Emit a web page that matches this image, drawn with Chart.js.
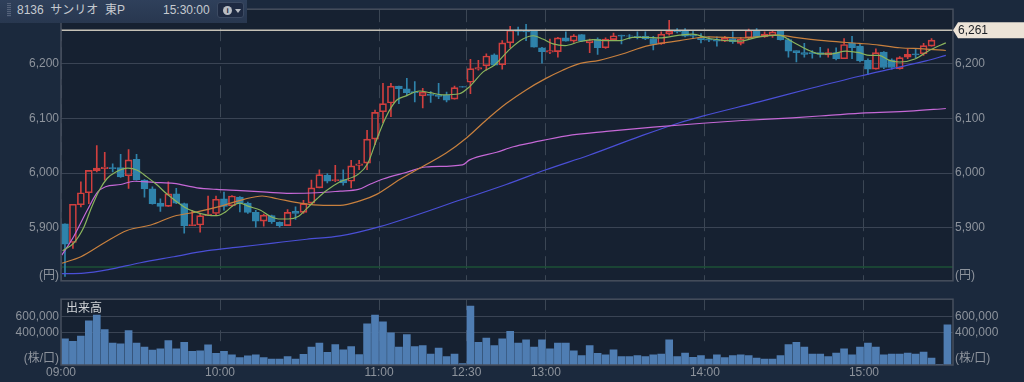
<!DOCTYPE html>
<html lang="ja"><head><meta charset="utf-8">
<style>
html,body{margin:0;padding:0;background:#1b293d;width:1024px;height:382px;overflow:hidden;font-family:"Liberation Sans","Noto Sans CJK JP",sans-serif}
canvas{position:absolute;left:0}
#head{position:absolute;left:0;top:0;width:247px;height:23px;background:linear-gradient(#2f405b,#28374f);color:#c6cad0;font-size:12px;line-height:20px;white-space:pre}
#head span{position:absolute;top:0}
#grip{position:absolute;left:7px;top:3px;width:4px;height:14px;background:repeating-linear-gradient(#56637a 0 1px,#2f405b 1px 2px)}
#btn{position:absolute;left:217px;top:2px;width:27px;height:16px;background:#1e2a42;border:1px solid #3c4a62;box-sizing:border-box;border-radius:3px}
#i{position:absolute;left:5px;top:3px;width:9px;height:9px;border-radius:50%;background:#b9bdc4;color:#1e2a42;font:bold 8px/9px "Liberation Sans";text-align:center}
#t{position:absolute;left:17px;top:6px;width:0;height:0;border-left:3px solid transparent;border-right:3px solid transparent;border-top:4px solid #b9bdc4}
#vl{position:absolute;left:66px;top:301px;color:#cfd2d6;font-size:12px;line-height:14px}
</style></head><body>
<canvas id="main" width="1024" height="290" style="top:0;width:1024px;height:290px"></canvas>
<canvas id="vol" width="1024" height="92" style="top:290px;width:1024px;height:92px"></canvas>
<div id="head"><div id="grip"></div><span style="left:17px">8136&nbsp; サンリオ&nbsp; 東P</span><span style="left:163px">15:30:00</span><div id="btn"><div id="i">i</div><div id="t"></div></div></div>
<div id="vl">出来高</div>
<script src="https://cdn.jsdelivr.net/npm/chart.js@4"></script>
<script>
const timeSlots=[0,20,40,51,61,81,101];
const timeLabels=["09:00","10:00","11:00","12:30","13:00","14:00","15:00"];
const priceTicks=[6200,6100,6000,5900];
const volumeTicks=[600000,400000];
const lastPrice=6261;
const lowerBand=5828;
const open=[5907,5873,5942,5964,6004,6008,6010,6010,5995,6025,5987,5971,5945,5939,5962,5944,5904,5905,5922,5926,5953,5940,5956,5945,5928,5912,5922,5910,5904,5930,5928,5945,5973,5996,5986,5988,5985,6014,6018,6062,6112,6128,6159,6154,6149,6141,6144,6143,6142,6135,6158,6166,6190,6196,6216,6198,6238,6262,6261,6259,6229,6221,6222,6247,6241,6253,6238,6245,6229,6244,6252,6251,6250,6250,6246,6236,6254,6261,6260,6252,6247,6245,6244,6241,6246,6237,6247,6261,6249,6251,6260,6244,6224,6220,6220,6220,6216,6220,6209,6237,6232,6206,6190,6221,6207,6191,6212,6218,6218,6232,null,null];
const close=[5870,5943,5964,6005,6009,6011,6008,5993,6024,5988,5971,5944,5939,5962,5945,5904,5906,5922,5925,5952,5939,5958,5945,5928,5912,5923,5911,5904,5928,5926,5944,5973,5997,5985,5988,5982,6013,6017,6062,6111,6127,6159,6154,6147,6147,6148,6142,6140,6133,6156,6157,6191,6193,6214,6197,6238,6261,6259,6258,6230,6222,6224,6247,6241,6251,6241,6242,6229,6245,6251,6250,6250,6249,6245,6235,6254,6260,6258,6250,6250,6244,6243,6241,6247,6240,6245,6261,6249,6254,6258,6244,6223,6220,6217,6218,6217,6220,6209,6235,6229,6205,6190,6220,6193,6193,6211,6217,6216,6233,6243,null,null];
const high=[5907,5943,5984,6005,6050,6038,6017,6034,6043,6034,5988,5975,5953,5984,5972,5945,5932,5926,5958,5958,5965,5959,5957,5947,5932,5925,5923,5911,5933,5938,5950,5987,6006,5999,6014,6006,6023,6023,6078,6115,6164,6164,6159,6173,6167,6155,6149,6164,6148,6159,6158,6208,6206,6218,6218,6242,6268,6267,6272,6261,6230,6245,6248,6258,6253,6253,6245,6247,6247,6256,6252,6253,6258,6258,6250,6258,6279,6264,6264,6260,6255,6249,6249,6250,6258,6248,6263,6264,6258,6260,6261,6246,6224,6237,6224,6230,6227,6229,6246,6250,6237,6209,6227,6222,6209,6213,6227,6227,6237,6246,null,null];
const low=[5811,5862,5938,5944,6002,5987,6002,5992,5972,5987,5956,5943,5930,5939,5944,5890,5904,5892,5922,5923,5932,5939,5929,5926,5901,5903,5908,5901,5904,5915,5926,5943,5973,5982,5984,5978,5973,6006,6006,6052,6092,6103,6127,6141,6130,6119,6129,6136,6130,6135,6157,6145,6188,6188,6197,6190,6229,6252,6242,6230,6201,6218,6212,6241,6239,6240,6220,6217,6228,6242,6236,6245,6245,6244,6225,6235,6252,6256,6249,6246,6238,6240,6232,6240,6237,6234,6244,6248,6248,6248,6243,6212,6203,6212,6210,6212,6212,6207,6209,6209,6203,6180,6190,6191,6190,6190,6209,6211,6215,6232,null,null];
const volume=[324000,292000,356000,544000,616000,436000,272000,260000,424000,272000,220000,184000,200000,300000,200000,280000,168000,176000,248000,144000,168000,124000,92000,112000,124000,92000,72000,72000,104000,72000,132000,220000,272000,156000,252000,188000,228000,128000,508000,616000,532000,396000,220000,376000,228000,240000,136000,208000,104000,136000,16000,728000,280000,332000,240000,324000,416000,272000,312000,220000,312000,200000,272000,272000,176000,116000,240000,144000,124000,188000,104000,104000,116000,104000,124000,136000,312000,104000,148000,96000,116000,72000,124000,92000,116000,124000,116000,84000,72000,72000,116000,252000,280000,220000,136000,136000,104000,148000,200000,124000,220000,272000,220000,124000,136000,136000,148000,136000,160000,84000,8000,496000];
const maGreenSlots=[-0.3,1.1,2.4,3.2,4.3,5.3,6.4,7.9,9.1,10.3,11.6,12.8,14.1,15.1,16.2,17.9,19.1,20.2,21.2,22,23.1,24.6,25.8,26.9,28.1,29.4,30.4,31.7,32.9,34.6,36.9,38.1,39.2,40.4,41.7,42.9,44.6,45.9,47.5,49.6,50.9,52.6,54,56,57.6,58.9,60.1,61.4,62.9,64.7,66.4,68.1,69.8,71.4,73.1,74.8,77.3,78.9,81,84.8,87.3,89.8,91.5,93.6,94.9,96.5,98.2,99.9,101.2,102.4,103.7,105,107,108.7,110.8];
const maGreen=[5858,5872,5902,5932,5968,5990,6002,6009,6005,5993,5978,5962,5947,5937,5930,5923,5922,5929,5941,5945,5939,5932,5921,5916,5916,5921,5935,5953,5968,5984,5998,6018,6061,6103,6133,6141,6150,6147,6143,6145,6158,6185,6197,6227,6245,6251,6245,6236,6233,6240,6244,6242,6242,6248,6248,6247,6252,6254,6246,6241,6249,6252,6240,6224,6218,6218,6223,6220,6215,6215,6206,6203,6209,6224,6238];
const maOrangeSlots=[-0.4,2,4.9,7.8,10.8,13.7,16.6,19.5,22.5,24.8,26.7,29.6,32.5,34.6,37.1,39.2,42.1,45,47.9,50.5,53,55.5,58,60.5,62.6,64.7,67.2,70.2,73.1,77.3,81,85.2,89.4,92.8,96.1,99.9,102.4,105,108,110.8];
const maOrange=[5835,5847,5872,5895,5905,5921,5929,5939,5952,5958,5953,5945,5941,5941,5949,5961,5988,6012,6036,6064,6097,6127,6152,6173,6188,6200,6206,6218,6232,6242,6249,6247,6252,6246,6241,6237,6234,6229,6227,6224];
const maPinkSlots=[-0.4,1.1,2.8,4.1,5.1,7,8.7,11.2,13.7,16.6,19.1,22.1,25.4,28.3,31.7,34.6,36.9,38.3,40,42.9,45.4,50,50.9,54.3,56.4,58.9,63.1,68.1,74,80.2,85.2,91.5,95.7,100.7,106.2,110.8];
const maPink=[5850,5884,5932,5965,5975,5979,5985,5983,5981,5973,5970,5968,5965,5963,5964,5967,5970,5979,5989,6001,6011,6015,6024,6038,6048,6056,6068,6076,6084,6091,6096,6101,6105,6110,6113,6118];
const maBlueSlots=[-0.4,2.4,5.3,9.5,13.7,17.9,22.1,26.2,30.4,34.6,39.6,50,55.5,60.5,66,72.3,77.3,80.2,87.3,93.6,99.9,104.1,108.3,110.8];
const maBlue=[5816,5817,5823,5836,5847,5858,5865,5872,5879,5885,5902,5952,5979,6006,6033,6067,6092,6104,6130,6154,6177,6191,6205,6215];

const COL={page:'#1b293d',plot:'#162131',grid:'#3a4454',frame:'#474f5e',vgrid:'#3b4654',tick:'#8d939c',up:'#d03f3e',down:'#2f83ab',vol:'#4f7db2'};
Chart.defaults.font.family='"Liberation Sans","Noto Sans CJK JP",sans-serif';
Chart.defaults.font.size=12;
Chart.defaults.color=COL.tick;
Chart.defaults.animation=false;
const slots=open.map((_,i)=>i);
const isUp=i=>close[i]>=open[i];
const X_MIN=-0.5,X_MAX=111.7;
const pts=(xs,ys)=>xs.map((x,i)=>({x,y:ys[i]}));
const valid=slots.filter(i=>open[i]!==null);
const bodies=valid.map(i=>({x:i,y:[open[i],close[i]],up:isUp(i)}));
const upperW=valid.map(i=>({x:i,y:[Math.max(open[i],close[i]),high[i]],up:isUp(i)}));
const lowerW=valid.map(i=>({x:i,y:[low[i],Math.min(open[i],close[i])],up:isUp(i)}));
const line=(data,color,order,w)=>({type:'line',data,borderColor:color,borderWidth:w||1.2,pointRadius:0,order,cubicInterpolationMode:'monotone'});
const wick=(data)=>({type:'bar',data,barThickness:1,grouped:false,order:6,backgroundColor:c=>c.raw&&c.raw.up?COL.up:COL.down});

const frame={id:'frame',
  beforeDraw(c){const a=c.chartArea,g=c.ctx;g.save();g.fillStyle=COL.plot;g.fillRect(a.left,a.top,a.right-a.left,a.bottom-a.top);g.restore();},
  afterDraw(c){const a=c.chartArea,g=c.ctx;g.save();g.strokeStyle=COL.frame;g.lineWidth=1.5;g.strokeRect(a.left,a.top,a.right-a.left,a.bottom-a.top);
    if(c.canvas.id==='main'){const y=c.scales.yr.getPixelForValue(lastPrice),x=a.right;
      g.fillStyle='#ece3d7';g.beginPath();g.moveTo(x,y);g.lineTo(x+5,y-8);g.lineTo(1024,y-8);g.lineTo(1024,y+8);g.lineTo(x+5,y+8);g.closePath();g.fill();
      g.fillStyle='#1c2026';g.font=Chart.defaults.font.size+'px '+Chart.defaults.font.family;g.textBaseline='middle';g.textAlign='left';g.fillText(lastPrice.toLocaleString('en-US'),x+5,y+0.5);}
    g.restore();}};

const xScale=(showLabels,dash)=>({type:'linear',min:X_MIN,max:X_MAX,offset:false,
  afterBuildTicks(s){s.ticks=timeSlots.map(v=>({value:v-0.5}));},
  afterFit(s){s.height=showLabels?17:9;},
  grid:{color:COL.vgrid,drawTicks:false,offset:false,lineWidth:1},border:{display:false,dash:dash},
  ticks:{display:showLabels,autoSkip:false,maxRotation:0,padding:0,color:COL.tick,callback:(v)=>timeLabels[timeSlots.indexOf(v+0.5)]}});
const yScale=(pos,min,max,vals,unitVal,unit,fit,grid)=>({position:pos,min,max,
  afterBuildTicks(s){s.ticks=vals.concat([unitVal]).map(v=>({value:v}));},
  afterFit(s){s.width=fit;},
  border:{display:false},
  grid:grid?{color:c=>c.tick&&c.tick.value===unitVal?'transparent':COL.grid,drawTicks:false,lineWidth:1}:{display:false,drawTicks:false},
  ticks:{autoSkip:false,padding:2,color:COL.tick,callback:v=>v===unitVal?unit:v.toLocaleString('en-US')}});

new Chart(document.getElementById('main'),{type:'bar',
  data:{datasets:[
    line(pts([X_MIN,X_MAX],[lowerBand,lowerBand]),'#1d5136',8,1.5),
    wick(upperW),wick(lowerW),
    {type:'bar',data:bodies,barThickness:7,grouped:false,order:5,
      backgroundColor:c=>c.raw&&c.raw.up?'rgba(0,0,0,0)':COL.down,
      borderColor:c=>c.raw&&c.raw.up?COL.up:COL.down,borderWidth:1,borderSkipped:false},
    line(pts(maBlueSlots,maBlue),'#4a4fd6',4),
    line(pts(maPinkSlots,maPink),'#c568d6',3.5),
    line(pts(maOrangeSlots,maOrange),'#c8803e',3),
    line(pts(maGreenSlots,maGreen),'#8ab45c',2),
    line(pts([X_MIN,X_MAX],[lastPrice,lastPrice]),'#c5c1b6',1,1.6)
  ]},
  options:{responsive:false,devicePixelRatio:1,animation:false,
    layout:{padding:{top:9,left:0,right:0,bottom:0}},
    plugins:{legend:{display:false},tooltip:{enabled:false}},
    scales:{x:xScale(false,[13,6]),
      y:yScale('left',5803,6299.5,priceTicks,5813,'(円)',61,true),
      yr:yScale('right',5803,6299.5,priceTicks,5813,'(円)',71,false)}},
  plugins:[frame]});

new Chart(document.getElementById('vol'),{type:'bar',
  data:{datasets:[{data:slots.map(i=>({x:i,y:volume[i]})),backgroundColor:COL.vol,barThickness:7,grouped:false}]},
  options:{responsive:false,devicePixelRatio:1,animation:false,
    layout:{padding:{top:6,left:0,right:0,bottom:0}},
    plugins:{legend:{display:false},tooltip:{enabled:false}},
    scales:{x:xScale(true,[11,20]),
      y:yScale('left',0,812000,volumeTicks,82000,'(株/口)',61,true),
      yr:yScale('right',0,812000,volumeTicks,82000,'(株/口)',71,false)}},
  plugins:[frame]});
</script>
</body></html>
